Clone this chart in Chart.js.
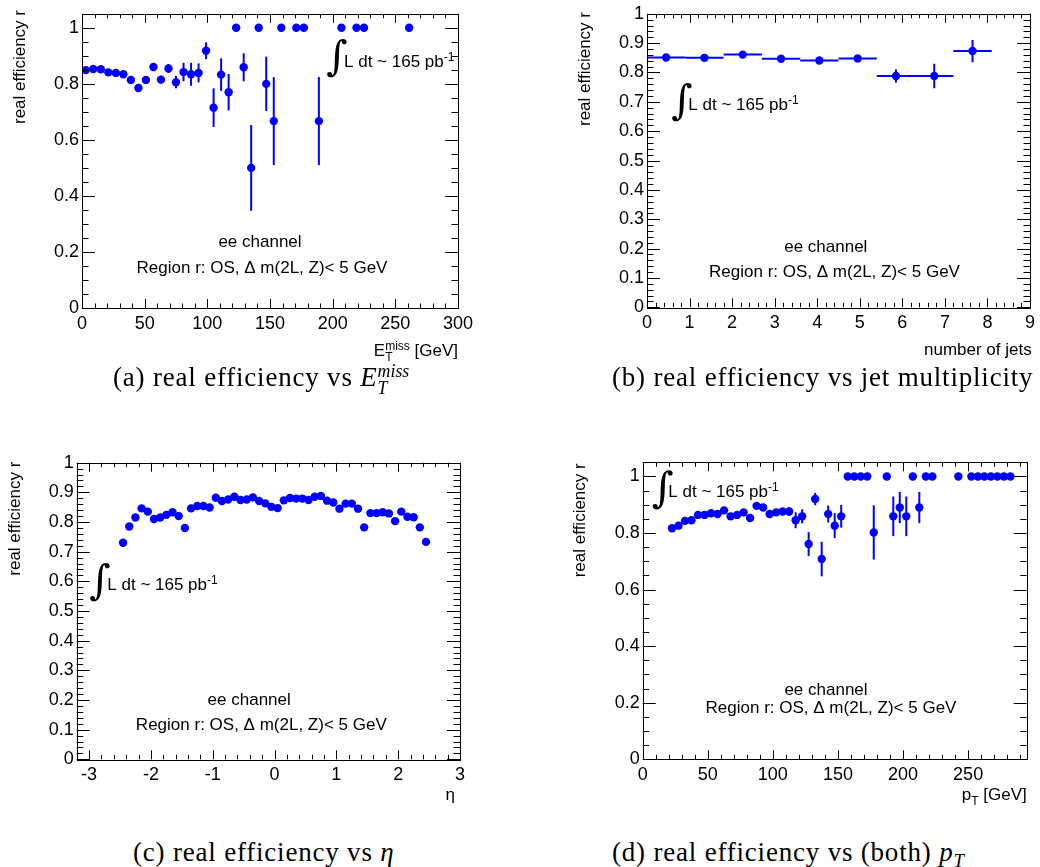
<!DOCTYPE html>
<html>
<head>
<meta charset="utf-8">
<script src="https://cdn.jsdelivr.net/npm/chart.js@4.4.0/dist/chart.umd.min.js"></script>
<style>
  html, body { margin: 0; padding: 0; background: #fff; }
  body { width: 1040px; height: 867px; position: relative; overflow: hidden; }
  canvas { position: absolute; }
  .cap { position: absolute; font-family: "Liberation Serif", serif; font-size: 27px; line-height: 28px;
         color: #000; white-space: nowrap; letter-spacing: 0.8px; }
  .cap i { font-style: italic; }
  .ss { display: inline-block; vertical-align: -0.45em; font-size: 0.66em; line-height: 0.95em; font-style: italic; letter-spacing: 0; }
  .ss span { display: block; }
  .sb { font-size: 0.7em; font-style: italic; vertical-align: -0.3em; }
</style>
</head>
<body>
<canvas id="chart-met" style="left:0;top:0" width="540" height="370"></canvas>
<canvas id="chart-jets" style="left:540px;top:0" width="500" height="370"></canvas>
<canvas id="chart-eta" style="left:0;top:440px" width="540" height="380"></canvas>
<canvas id="chart-pt" style="left:540px;top:440px" width="500" height="380"></canvas>

<div class="cap" style="left:113px;top:363px">(a) real efficiency vs <i>E</i><span class="ss"><span>miss</span><span>T</span></span></div>
<div class="cap" style="left:612px;top:363px">(b) real efficiency vs jet multiplicity</div>
<div class="cap" style="left:133px;top:838px">(c) real efficiency vs <i>η</i></div>
<div class="cap" style="left:612px;top:838px">(d) real efficiency vs (both) <i>p</i><span class="sb">T</span></div>

<script>
// (a) efficiency vs missing ET, 6 GeV bins
const metX = [3, 9, 15, 21, 27, 33, 39, 45, 51, 57, 63, 69, 75, 81, 87, 93, 99, 105, 111, 117, 123, 129, 135, 141,
              147, 153, 159, 171, 177, 189, 207, 219, 225, 261];
const metY = [0.849, 0.853, 0.852, 0.841, 0.839, 0.834, 0.814, 0.785, 0.814, 0.86, 0.815, 0.855, 0.806, 0.842, 0.834, 0.839,
              0.918, 0.715, 0.833, 0.77, 1.0, 0.859, 0.5, 1.0, 0.8, 0.667, 1.0, 1.0, 1.0, 0.667, 1.0, 1.0, 1.0, 1.0];
const metErr = [0.004, 0.004, 0.005, 0.005, 0.006, 0.007, 0.008, 0.01, 0.011, 0.012, 0.014, 0.016, 0.022, 0.033, 0.041, 0.034,
                0.03, 0.069, 0.058, 0.065, 0, 0.05, 0.153, 0, 0.097, 0.157, 0, 0, 0, 0.157, 0, 0, 0, 0];

// (b) efficiency vs number of jets
const jetX = [0.45, 1.35, 2.25, 3.15, 4.05, 4.95, 5.85, 6.75, 7.65];
const jetY = [0.851, 0.850, 0.861, 0.847, 0.841, 0.848, 0.788, 0.788, 0.873];
const jetErr = [0.003, 0.004, 0.006, 0.007, 0.008, 0.008, 0.023, 0.042, 0.038];
const jetBinHalf = [0.45, 0.45, 0.45, 0.45, 0.45, 0.45, 0.45, 0.45, 0.45];

// (c) efficiency vs eta
const etaX = [-2.45, -2.35, -2.25, -2.15, -2.05, -1.95, -1.85, -1.75, -1.65, -1.55, -1.45, -1.35, -1.25, -1.15, -1.05,
              -0.95, -0.85, -0.75, -0.65, -0.55, -0.45, -0.35, -0.25, -0.15, -0.05, 0.05, 0.15, 0.25, 0.35, 0.45,
              0.55, 0.65, 0.75, 0.85, 0.95, 1.05, 1.15, 1.25, 1.35, 1.45, 1.55, 1.65, 1.75, 1.85, 1.95, 2.05, 2.15,
              2.25, 2.35, 2.45];
const etaY = [0.730, 0.785, 0.815, 0.846, 0.835, 0.810, 0.815, 0.824, 0.833, 0.820, 0.780, 0.846, 0.854, 0.854, 0.849,
              0.882, 0.871, 0.876, 0.885, 0.874, 0.876, 0.883, 0.871, 0.863, 0.851, 0.847, 0.873, 0.881, 0.879, 0.879,
              0.874, 0.885, 0.888, 0.872, 0.866, 0.845, 0.862, 0.862, 0.845, 0.782, 0.830, 0.830, 0.833, 0.829, 0.803,
              0.835, 0.818, 0.816, 0.782, 0.733];

// (d) efficiency vs pT, 5 GeV bins
const ptX = [22.5, 27.5, 32.5, 37.5, 42.5, 47.5, 52.5, 57.5, 62.5, 67.5, 72.5, 77.5, 82.5, 87.5, 92.5, 97.5, 102.5,
             107.5, 112.5, 117.5, 122.5, 127.5, 132.5, 137.5, 142.5, 147.5, 152.5, 157.5, 162.5, 167.5, 172.5, 177.5,
             187.5, 192.5, 197.5, 202.5, 207.5, 212.5, 217.5, 222.5, 242.5, 252.5, 257.5, 262.5, 267.5, 272.5, 277.5, 282.5];
const ptY = [0.817, 0.826, 0.843, 0.845, 0.864, 0.864, 0.870, 0.867, 0.880, 0.859, 0.864, 0.873, 0.853, 0.896, 0.890, 0.867,
             0.873, 0.876, 0.876, 0.845, 0.859, 0.761, 0.920, 0.708, 0.867, 0.826, 0.859, 1, 1, 1, 1, 0.802,
             1, 0.859, 0.890, 0.859, 1, 0.890, 1, 1, 1, 1, 1, 1, 1, 1, 1, 1];
const ptErr = [0.003, 0.003, 0.004, 0.004, 0.004, 0.005, 0.005, 0.005, 0.006, 0.006, 0.007, 0.007, 0.008, 0.009, 0.009, 0.01,
               0.011, 0.013, 0.015, 0.028, 0.025, 0.042, 0.022, 0.061, 0.03, 0.044, 0.04, 0, 0, 0, 0, 0.096,
               0, 0.07, 0.055, 0.07, 0, 0.055, 0, 0, 0, 0, 0, 0, 0, 0, 0, 0];

const BLUE = '#0000ff';
const SANS = '"Liberation Sans", Arial, Helvetica, sans-serif';

const lumiText = [{ t: 'L dt ~ 165 pb' }, { sup: '-1' }];
const channelText = 'ee channel';
const regionText = 'Region r: OS, \u0394 m(2L, Z)< 5 GeV';
const yTitleText = 'real efficiency r';

// text placement per canvas (canvas-local pixels)
const notes = {
  'chart-met': {
    yTitle: [20, 10], xTitle: { segs: [{ t: 'E' }, { sup: 'miss', sub: 'T' }, { t: ' [GeV]' }], x: 458, y: 356 },
    integral: [327, 38, 78], lumi: [344, 67], chan: [260, 246.5], region: [262, 272.7]
  },
  'chart-jets': {
    yTitle: [45, 12], xTitle: { segs: [{ t: 'number of jets' }], x: 491.7, y: 355 },
    integral: [132, 82, 122], lumi: [148.3, 110], chan: [285.8, 251.7], region: [294.5, 276.7]
  },
  'chart-eta': {
    yTitle: [15, 21.7], xTitle: { segs: [{ t: '\u03b7' }], x: 455, y: 360 },
    integral: [90, 121.7, 161.7], lumi: [107.3, 150], chan: [249.2, 265], region: [261.3, 290]
  },
  'chart-pt': {
    yTitle: [40, 23.3], xTitle: { segs: [{ t: 'p' }, { sub: 'T' }, { t: ' [GeV]' }], x: 486.7, y: 360 },
    integral: [111.7, 29, 70], lumi: [128.3, 57], chan: [286, 255], region: [291, 273]
  }
};

function segWidth(ctx, s) {
  if (s.t) { ctx.font = '17px ' + SANS; return ctx.measureText(s.t).width; }
  ctx.font = '12px ' + SANS;
  return Math.max(s.sup ? ctx.measureText(s.sup).width : 0, s.sub ? ctx.measureText(s.sub).width : 0);
}

function drawRich(ctx, segs, x, y, align) {
  let w = 0;
  segs.forEach(s => { w += segWidth(ctx, s); });
  let cx = align === 'right' ? x - w : (align === 'center' ? x - w / 2 : x);
  ctx.textAlign = 'left';
  ctx.textBaseline = 'alphabetic';
  segs.forEach(s => {
    const sw = segWidth(ctx, s);
    if (s.t) {
      ctx.font = '17px ' + SANS;
      ctx.fillText(s.t, cx, y);
    } else {
      ctx.font = '12px ' + SANS;
      if (s.sup) ctx.fillText(s.sup, cx, y - 6);
      if (s.sub) ctx.fillText(s.sub, cx, y + 5);
    }
    cx += sw;
  });
}

function drawIntegral(ctx, x, y0, y1) {
  ctx.font = '40px "DejaVu Serif", serif';
  const m = ctx.measureText('\u222b');
  const h = m.actualBoundingBoxAscent + m.actualBoundingBoxDescent;
  const size = 40 * (y1 - y0) / h;
  ctx.font = size + 'px "DejaVu Serif", serif';
  const m2 = ctx.measureText('\u222b');
  ctx.textAlign = 'left';
  ctx.textBaseline = 'alphabetic';
  ctx.fillText('\u222b', x + m2.actualBoundingBoxLeft, y1 - m2.actualBoundingBoxDescent);
}

const rootStyle = {
  id: 'rootStyle',
  beforeDatasetsDraw(chart) {
    const ctx = chart.ctx;
    const ds = chart.data.datasets[0];
    const xs = chart.scales.x, ys = chart.scales.y;
    ctx.save();
    ctx.strokeStyle = BLUE;
    ctx.lineWidth = 2;
    ds.data.forEach((p, i) => {
      const px = xs.getPixelForValue(p.x), py = ys.getPixelForValue(p.y);
      const ey = ds.yErr ? ds.yErr[i] : 0;
      const ex = ds.xErr ? ds.xErr[i] : 0;
      ctx.beginPath();
      if (ey) {
        ctx.moveTo(px, ys.getPixelForValue(p.y - ey));
        ctx.lineTo(px, ys.getPixelForValue(p.y + ey));
      }
      if (ex) {
        ctx.moveTo(xs.getPixelForValue(p.x - ex), py);
        ctx.lineTo(xs.getPixelForValue(p.x + ex), py);
      }
      ctx.stroke();
    });
    ctx.restore();
  },
  afterDraw(chart) {
    const ctx = chart.ctx;
    const { left, right, top, bottom } = chart.chartArea;
    const xs = chart.scales.x, ys = chart.scales.y;
    const mt = chart.config.options.minorTicks;
    ctx.save();
    ctx.strokeStyle = '#000';
    ctx.lineWidth = 1;
    ctx.strokeRect(Math.round(left) + 0.5, Math.round(top) + 0.5, Math.round(right - left), Math.round(bottom - top));

    ctx.beginPath();
    const xStep = xs.options.ticks.stepSize;
    for (let v = Math.ceil(xs.min / mt.x - 1e-6) * mt.x; v <= xs.max + 1e-9; v += mt.x) {
      const major = Math.abs(v / xStep - Math.round(v / xStep)) < 1e-6;
      const len = major ? 9 : 4.5;
      const px = Math.round(xs.getPixelForValue(v)) + 0.5;
      ctx.moveTo(px, bottom); ctx.lineTo(px, bottom - len);
      ctx.moveTo(px, top); ctx.lineTo(px, top + len);
    }
    const yStep = ys.options.ticks.stepSize;
    for (let v = 0; v <= ys.max + 1e-9; v += mt.y) {
      const major = Math.abs(v / yStep - Math.round(v / yStep)) < 1e-6;
      const len = major ? 13 : 6.5;
      const py = Math.round(ys.getPixelForValue(v)) + 0.5;
      ctx.moveTo(left, py); ctx.lineTo(left + len, py);
      ctx.moveTo(right, py); ctx.lineTo(right - len, py);
    }
    ctx.stroke();

    const n = notes[chart.canvas.id];
    ctx.fillStyle = '#000';
    // y title, rotated and aligned at the top end
    ctx.save();
    ctx.translate(n.yTitle[0], n.yTitle[1]);
    ctx.rotate(-Math.PI / 2);
    ctx.font = '17px ' + SANS;
    ctx.textAlign = 'right';
    ctx.textBaseline = 'middle';
    ctx.fillText(yTitleText, 0, 0);
    ctx.restore();

    drawRich(ctx, n.xTitle.segs, n.xTitle.x, n.xTitle.y, 'right');
    drawIntegral(ctx, n.integral[0], n.integral[1], n.integral[2]);
    drawRich(ctx, lumiText, n.lumi[0], n.lumi[1], 'left');
    drawRich(ctx, [{ t: channelText }], n.chan[0], n.chan[1], 'center');
    drawRich(ctx, [{ t: regionText }], n.region[0], n.region[1], 'center');
    ctx.restore();
  }
};

function axis(min, max, step, size, horizontal) {
  return {
    type: 'linear',
    min: min,
    max: max,
    ticks: {
      stepSize: step,
      includeBounds: false,
      autoSkip: false,
      maxRotation: 0,
      padding: horizontal ? 5 : 3,
      color: '#000',
      font: { family: SANS, size: 18 },
      callback: v => String(Math.round(v * 100) / 100)
    },
    grid: { display: false, drawTicks: false },
    border: { display: false },
    afterFit: s => { if (horizontal) s.height = size; else s.width = size; }
  };
}

function makePanel(id, p) {
  return new Chart(document.getElementById(id), {
    type: 'scatter',
    data: {
      datasets: [{
        data: p.x.map((v, i) => ({ x: v, y: p.y[i] })),
        yErr: p.yErr,
        xErr: p.xErr,
        pointRadius: 4.2,
        pointHoverRadius: 4.2,
        pointBackgroundColor: BLUE,
        pointBorderWidth: 0,
        showLine: false
      }]
    },
    options: {
      responsive: false,
      animation: false,
      devicePixelRatio: 1,
      layout: { padding: p.pad },
      minorTicks: p.minor,
      plugins: { legend: { display: false }, tooltip: { enabled: false } },
      scales: {
        x: axis(p.xMin, p.xMax, p.xStep, p.xH, true),
        y: axis(0, p.yMax, p.yStep, p.yW, false)
      }
    },
    plugins: [rootStyle]
  });
}

makePanel('chart-met', {
  x: metX, y: metY, yErr: metErr,
  xMin: 0, xMax: 300, xStep: 50, yMax: 1.05, yStep: 0.2, minor: { x: 10, y: 0.05 },
  pad: { left: 0, right: 82, top: 11, bottom: 0 }, yW: 82, xH: 62
});
makePanel('chart-jets', {
  x: jetX, y: jetY, yErr: jetErr, xErr: jetBinHalf,
  xMin: 0, xMax: 9, xStep: 1, yMax: 1, yStep: 0.1, minor: { x: 0.2, y: 0.02 },
  pad: { left: 0, right: 8.3, top: 11.7, bottom: 0 }, yW: 107, xH: 62.7
});
makePanel('chart-eta', {
  x: etaX, y: etaY,
  xMin: -3.2, xMax: 3, xStep: 1, yMax: 1, yStep: 0.1, minor: { x: 0.2, y: 0.02 },
  pad: { left: 0, right: 80, top: 22.7, bottom: 0 }, yW: 76.7, xH: 60.7
});
makePanel('chart-pt', {
  x: ptX, y: ptY, yErr: ptErr,
  xMin: 0, xMax: 295, xStep: 50, yMax: 1.05, yStep: 0.2, minor: { x: 10, y: 0.05 },
  pad: { left: 0, right: 13.3, top: 22.3, bottom: 0 }, yW: 102.7, xH: 60.7
});
</script>
</body>
</html>
